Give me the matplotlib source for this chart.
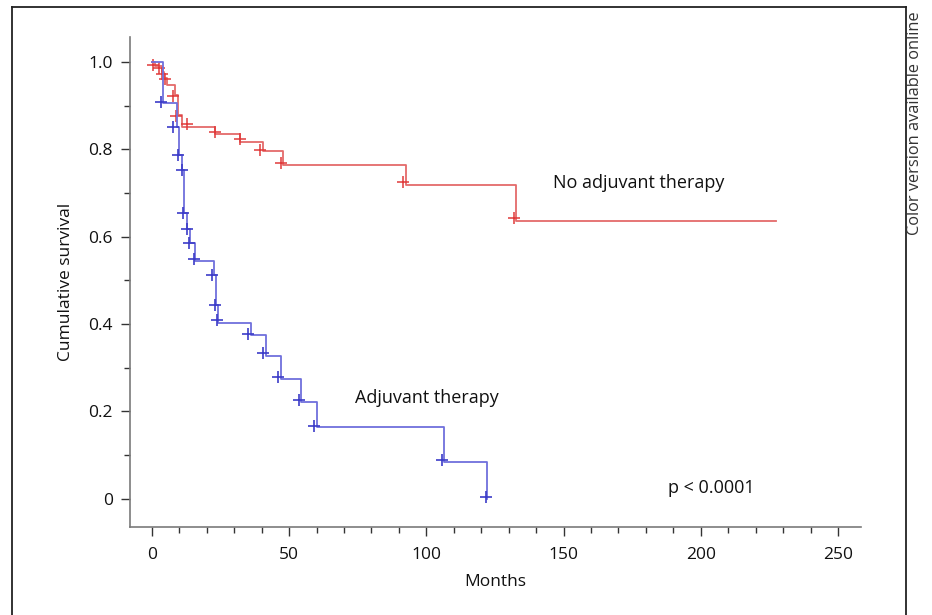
import matplotlib
matplotlib.use("Agg")
import matplotlib.pyplot as plt
from matplotlib.lines import Line2D
from matplotlib.ticker import MultipleLocator, FixedLocator

plt.rcParams['font.family'] = ['Open Sans', 'DejaVu Sans']

# Kaplan-Meier steps (months, cumulative survival)
red_t = [0, 1.0, 3.5, 4.5, 5.5, 8.3, 9.4, 10.8, 23.0, 32.0, 40.6, 47.9, 92.6, 132.7, 227.6]
red_s = [1.0, 0.99, 0.978, 0.963, 0.947, 0.924, 0.878, 0.851, 0.834, 0.817, 0.795, 0.764, 0.718, 0.636, 0.636]
red_cens_t = [0.3, 2.5, 3.8, 4.8, 7.8, 8.8, 12.6, 23.0, 32.0, 39.5, 47.0, 91.6, 131.9]
red_cens_s = [0.993, 0.985, 0.972, 0.960, 0.922, 0.876, 0.857, 0.840, 0.824, 0.798, 0.769, 0.724, 0.642]

blue_t = [0, 4.0, 9.0, 10.0, 11.0, 11.8, 12.8, 14.0, 15.8, 22.6, 23.3, 24.2, 36.0, 41.4, 47.0, 54.3, 60.0, 106.5, 122.0]
blue_s = [1.0, 0.905, 0.85, 0.787, 0.752, 0.654, 0.617, 0.585, 0.544, 0.512, 0.443, 0.403, 0.375, 0.326, 0.274, 0.222, 0.163, 0.083, 0.0]
blue_cens_t = [3.2, 7.8, 9.6, 10.8, 11.4, 12.6, 13.6, 15.3, 21.8, 23.0, 23.8, 35.0, 40.6, 46.0, 53.6, 59.1, 105.7, 121.7]
blue_cens_s = [0.908, 0.851, 0.787, 0.752, 0.654, 0.617, 0.585, 0.548, 0.512, 0.443, 0.409, 0.378, 0.333, 0.279, 0.226, 0.167, 0.088, 0.004]

x_major = [0, 50, 100, 150, 200, 250]
y_major = [0, 0.2, 0.4, 0.6, 0.8, 1.0]
y_labels = ["0", "0.2", "0.4", "0.6", "0.8", "1.0"]

fig = plt.figure(figsize=(9.32, 6.15), dpi=100)
ax = fig.add_axes([130 / 932, 1 - 527 / 615, (861 - 130) / 932, (527 - 37) / 615])

ax.step(red_t, red_s, where="post", color="#e46a6a", lw=1.3)
ax.plot(red_cens_t, red_cens_s, ls="none", marker="+", ms=8, mew=1.1, color="#e03a3a")
ax.step(blue_t, blue_s, where="post", color="#7070dc", lw=1.3)
ax.plot(blue_cens_t, blue_cens_s, ls="none", marker="+", ms=8, mew=1.2, color="#3c3cc8")

ax.set_xlim(-8.0, 258.4)
ax.set_ylim(-0.065, 1.057)

ax.xaxis.set_major_locator(FixedLocator(x_major))
ax.xaxis.set_minor_locator(MultipleLocator(10))
ax.set_yticks(y_major)
ax.set_yticklabels(y_labels)
ax.yaxis.set_minor_locator(MultipleLocator(0.1))

for s in ["top", "right"]:
    ax.spines[s].set_visible(False)
for s in ["left", "bottom"]:
    ax.spines[s].set_color("#7a7a7a")
    ax.spines[s].set_linewidth(1.2)

ax.tick_params(axis="both", which="major", direction="out", length=6.5, width=1.0,
               color="#333333", labelsize=12.5, labelcolor="#111111")
ax.tick_params(axis="y", which="major", pad=6)
ax.tick_params(axis="x", which="major", pad=8)
ax.tick_params(axis="y", which="minor", direction="out", length=4.5, width=1.0, color="#333333")
ax.tick_params(axis="x", which="minor", direction="out", length=4, width=1.0, color="#333333")

ax.set_xlabel("Months", fontsize=12.5, color="#111111")
ax.set_ylabel("Cumulative survival", fontsize=12.5, color="#111111")
ax.xaxis.set_label_coords(0.5, -0.095)
ax.yaxis.set_label_coords(-0.076, 0.5)

ax.text(146.1, 0.723, "No adjuvant therapy", fontsize=13, va="center", ha="left", color="#111111")
ax.text(74.0, 0.230, "Adjuvant therapy", fontsize=13, va="center", ha="left", color="#111111")
ax.text(188.0, 0.024, "p < 0.0001", fontsize=13, va="center", ha="left", color="#111111")

# outer frame
fx0, fx1, fy1 = 12 / 932, 906 / 932, 1 - 7 / 615
for xs, ys in [([fx0, fx0], [0, fy1]), ([fx0, fx1], [fy1, fy1]), ([fx1, fx1], [fy1, 0])]:
    fig.add_artist(Line2D(xs, ys, transform=fig.transFigure, color="#222222", lw=1.3))

fig.text(915 / 932, 1 - 123.5 / 615, "Color version available online", rotation=90,
         ha="center", va="center", fontsize=11.8, color="#333333")

fig.savefig("out.png", dpi=100)
